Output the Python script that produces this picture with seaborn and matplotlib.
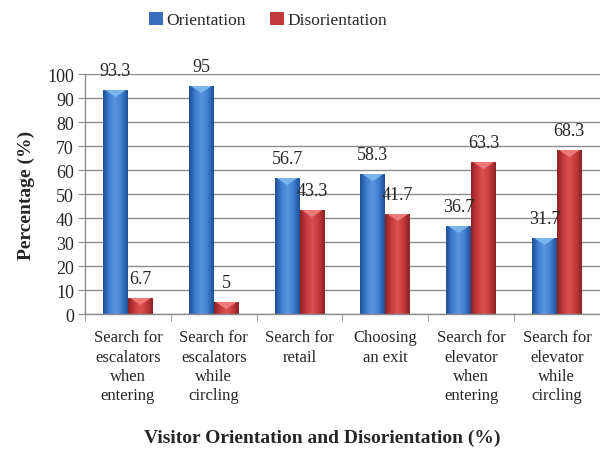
import seaborn as sns
import matplotlib.pyplot as plt
import numpy as np
import pandas as pd
from matplotlib.colors import LinearSegmentedColormap
from matplotlib.patches import Polygon

categories = ["Search for\nescalators\nwhen\nentering", "Search for\nescalators\nwhile\ncircling",
              "Search for\nretail", "Choosing\nan exit", "Search for\nelevator\nwhen\nentering",
              "Search for\nelevator\nwhile\ncircling"]
orientation = [93.3, 95, 56.7, 58.3, 36.7, 31.7]
disorientation = [6.7, 5, 43.3, 41.7, 63.3, 68.3]
series = ["Orientation", "Disorientation"]

df = pd.DataFrame({
    "cat": categories * 2,
    "val": orientation + disorientation,
    "grp": [series[0]] * 6 + [series[1]] * 6,
})

sns.set_style("white")
plt.rcParams['font.family'] = ['Liberation Serif', 'DejaVu Serif']

fig = plt.figure(figsize=(6, 4.52), dpi=100)
ax = fig.add_axes([0.1417, 0.303, 0.858, 0.531])
sns.barplot(data=df, x="cat", y="val", hue="grp", palette=["#3a6fc0", "#c0393b"],
            width=0.58, ax=ax, saturation=1, edgecolor="none")

# shaded (cylinder-like) fill for each bar, with a light bevel on top
cmaps = [LinearSegmentedColormap.from_list("b", ["#1f4f96", "#3f7fcf", "#5a95dc", "#3f7fcf", "#1f4f96"]),
         LinearSegmentedColormap.from_list("r", ["#8e2224", "#c53a3c", "#d9534f", "#c53a3c", "#8e2224"])]
bevels = ["#7ab4ee", "#ee7a78"]
grad = np.linspace(0, 1, 64).reshape(1, -1)
bev_h = 100 * 7 / (0.531 * 452)
for c, cm, bc in zip(ax.containers, cmaps, bevels):
    for p in c.patches:
        x0, y0, w, h = p.get_x(), p.get_y(), p.get_width(), p.get_height()
        im = ax.imshow(grad, cmap=cm, aspect="auto", zorder=p.get_zorder(),
                       extent=[x0, x0 + w, y0, y0 + h])
        im.set_clip_path(p)
        top = y0 + h
        tri = Polygon([(x0 + w * 0.08, top), (x0 + w * 0.92, top), (x0 + w / 2, top - min(bev_h, h))],
                      closed=True, facecolor=bc, edgecolor="none", zorder=p.get_zorder() + 0.1)
        ax.add_patch(tri)
    ax.bar_label(c, labels=[f"{v:g}" for v in c.datavalues], fontsize=13, padding=8)

ax.set_ylim(0, 100)
ax.set_xlim(-0.5, 5.5)
ax.set_yticks(range(0, 101, 10))
ax.yaxis.grid(True, color="#8c8c8c", lw=1)
ax.set_axisbelow(True)
for s in ["top", "right"]:
    ax.spines[s].set_visible(False)
for s in ["left", "bottom"]:
    ax.spines[s].set_color("#8c8c8c")
    ax.spines[s].set_linewidth(1)
ax.set_xticks([i + 0.5 for i in range(-1, 6)], minor=True)
ax.tick_params(axis="x", which="minor", length=5, color="#8c8c8c", bottom=True)
ax.tick_params(axis="x", which="major", length=0, labelsize=12, pad=11)
ax.tick_params(axis="y", length=5, color="#8c8c8c", left=True, labelsize=13, pad=3)
for t in ax.get_xticklabels():
    t.set_linespacing(1.28)

ax.set_ylabel("Percentage (%)", fontsize=14, fontweight="bold", labelpad=9)
ax.set_xlabel("")
fig.text(0.537, 0.031, "Visitor Orientation and Disorientation (%)", ha="center", va="center",
         fontsize=14, fontweight="bold")

ax.legend(loc="center", bbox_to_anchor=(0.355, 1.225), ncol=2, frameon=False,
          fontsize=12.5, handlelength=0.8, handleheight=0.8, handletextpad=0.2, columnspacing=1.4)

fig.savefig("out.png", dpi=100)
